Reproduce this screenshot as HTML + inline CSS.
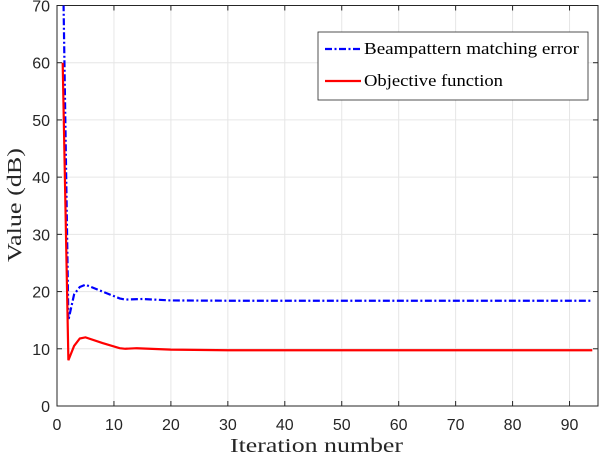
<!DOCTYPE html>
<html><head><meta charset="utf-8"><style>
body{margin:0;background:#fff;width:600px;height:458px;overflow:hidden}
svg{display:block}
.tick{font-family:"Liberation Sans",sans-serif;font-size:16px;fill:#262626}
.lab{font-family:"Liberation Serif",serif;font-size:20px;fill:#262626}
.leg{font-family:"Liberation Serif",serif;font-size:16.5px;fill:#000}
</style></head><body>
<svg id="chart" width="600" height="458">
<defs><clipPath id="clip"><rect x="57" y="5.5" width="541" height="401"/></clipPath></defs>
<g id="grid"></g>
<g id="axes"></g>
<g id="series" clip-path="url(#clip)"></g>
<g id="legend">
<rect x="318" y="32" width="270" height="68" fill="#fff" stroke="#262626" stroke-width="0.8"/>
<line x1="325" y1="49" x2="361" y2="49" stroke="#0000ff" stroke-width="2.2" stroke-dasharray="7,2.5,2,2.5"/>
<text class="leg" x="364" y="54" textLength="215" lengthAdjust="spacingAndGlyphs">Beampattern matching error</text>
<line x1="325" y1="81" x2="361" y2="81" stroke="#ff0000" stroke-width="2.2"/>
<text class="leg" x="364" y="86" textLength="139" lengthAdjust="spacingAndGlyphs">Objective function</text>
</g>
<text class="lab" x="230" y="452" textLength="173" lengthAdjust="spacingAndGlyphs">Iteration number</text>
<text class="lab" x="0" y="0" textLength="114" lengthAdjust="spacingAndGlyphs" transform="translate(21 262) rotate(-90)">Value (dB)</text>
</svg>
<script>
const xTicks=[0,10,20,30,40,50,60,70,80,90];
const yTicks=[0,10,20,30,40,50,60,70];
const beamX=[1,2,3,4,5,8,11,12,15,20,30,50,94];
const beamY=[80,15,19.5,20.8,21.2,20,18.8,18.6,18.7,18.45,18.4,18.4,18.4];
const objX=[1,2,3,4,5,8,11,12,14,20,30,50,94];
const objY=[60,8,10.5,11.8,12,11,10.1,10,10.1,9.85,9.75,9.75,9.75];
const X0=57,X1=598,XMIN=0,XMAX=95,Y0=406,Y1=5.5,YMIN=0,YMAX=70;
const sx=v=>X0+(v-XMIN)/(XMAX-XMIN)*(X1-X0);
const sy=v=>Y0-(v-YMIN)/(YMAX-YMIN)*(Y0-Y1);
const NS="http://www.w3.org/2000/svg";
function mk(t,a,p){const e=document.createElementNS(NS,t);for(const k in a)e.setAttribute(k,a[k]);p.appendChild(e);return e;}
const grid=document.getElementById('grid'),axes=document.getElementById('axes'),ser=document.getElementById('series');
xTicks.forEach(v=>{
 const g=mk('line',{x1:sx(v),x2:sx(v),y1:Y1,y2:Y0,stroke:'#e6e6e6','stroke-width':1},grid);
 
 
 mk('line',{x1:sx(v),x2:sx(v),y1:Y0,y2:Y0-5,stroke:'#262626'},axes);
 mk('line',{x1:sx(v),x2:sx(v),y1:Y1,y2:Y1+5,stroke:'#262626'},axes);
 const t=mk('text',{x:sx(v),y:Y0+24,'text-anchor':'middle',class:'tick'},axes);t.textContent=v;
 
 
});
yTicks.forEach(v=>{
 const g=mk('line',{x1:X0,x2:X1,y1:sy(v),y2:sy(v),stroke:'#e6e6e6','stroke-width':1},grid);
 
 
 mk('line',{x1:X0,x2:X0+5,y1:sy(v),y2:sy(v),stroke:'#262626'},axes);
 mk('line',{x1:X1,x2:X1-5,y1:sy(v),y2:sy(v),stroke:'#262626'},axes);
 const t=mk('text',{x:X0-7,y:sy(v)+6,'text-anchor':'end',class:'tick'},axes);t.textContent=v;
 
 
});
const box=mk('rect',{x:X0,y:Y1,width:X1-X0,height:Y0-Y1,fill:'none',stroke:'#262626','stroke-width':1},axes);


const pts=(xs,ys)=>xs.map((x,i)=>sx(x)+','+sy(ys[i])).join(' ');
const b=mk('polyline',{points:pts(beamX,beamY),fill:'none',stroke:'#0000ff','stroke-width':2.2,'stroke-dasharray':'7,2.5,2,2.5'},ser);


const o=mk('polyline',{points:pts(objX,objY),fill:'none',stroke:'#ff0000','stroke-width':2.2},ser);


</script>
</body></html>
